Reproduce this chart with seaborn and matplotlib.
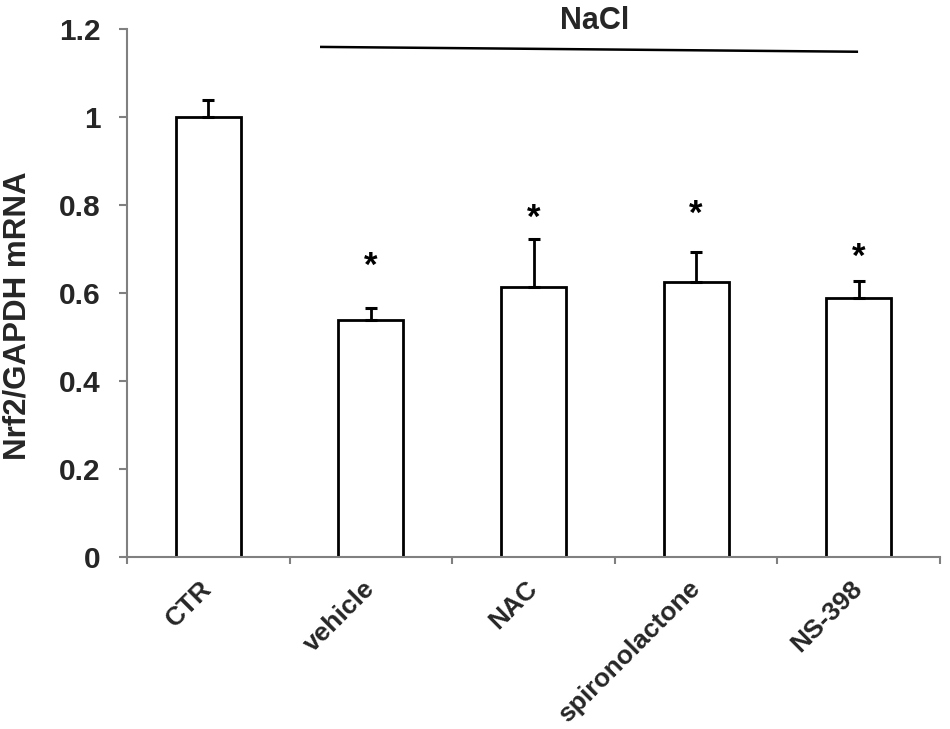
import matplotlib
matplotlib.use("Agg")

import matplotlib.pyplot as plt
import pandas as pd
import seaborn as sns


# ==========================================================
# Data
# ==========================================================

groups = ["CTR", "vehicle", "NAC", "spironolactone", "NS-398"]
means = [1.001, 0.539, 0.615, 0.626, 0.590]
errors = [0.038, 0.027, 0.108, 0.069, 0.039]
significant = [False, True, True, True, True]
star_y = [None, 0.661, 0.771, 0.779, 0.681]

y_ticks = [0, 0.2, 0.4, 0.6, 0.8, 1.0, 1.2]
y_tick_labels = ["0", "0.2", "0.4", "0.6", "0.8", "1", "1.2"]

bracket_label = "NaCl"
y_label = "Nrf2/GAPDH mRNA"


# ==========================================================
# Style
# ==========================================================

sns.set_style("white")
plt.rcParams["font.family"] = ["Liberation Sans", "DejaVu Sans"]
plt.rcParams["font.weight"] = "bold"

AXIS_GREY = "#808080"

dataframe = pd.DataFrame({"group": groups, "mean": means, "err": errors})

fig = plt.figure(figsize=(9.5, 7.29), dpi=100)
ax = fig.add_axes([0.1337, 0.2355, 0.8558, 0.7243])

sns.barplot(
    data=dataframe,
    x="group",
    y="mean",
    color="white",
    saturation=1,
    edgecolor="black",
    linewidth=2,
    width=0.4,
    errorbar=None,
    ax=ax,
)

# upper-only error bars
positions = list(range(len(groups)))
ax.errorbar(
    positions,
    dataframe["mean"],
    yerr=[[0] * len(groups), dataframe["err"]],
    fmt="none",
    ecolor="black",
    elinewidth=2,
    capsize=4.5,
    capthick=2.2,
    zorder=1,
)

# significance stars
for pos, flag, sy in zip(positions, significant, star_y):
    if flag:
        ax.text(pos, sy, "*", ha="center", va="center",
                fontsize=25, fontweight="bold", color="black")

# NaCl bracket line
ax.plot([0.687, 3.996], [1.160, 1.149], color="black", lw=1.8,
        solid_capstyle="butt", clip_on=False)
ax.text(2.378, 1.218, bracket_label, ha="center", va="center",
        fontsize=22, fontweight="bold", clip_on=False)

# ----------------------------------------------------------
# Axes
# ----------------------------------------------------------

ax.set_xlim(-0.5, len(groups) - 0.5)
ax.set_ylim(0, 1.2)

ax.set_yticks(y_ticks)
ax.set_yticklabels(y_tick_labels, fontsize=21.5, fontweight="bold")
ax.tick_params(axis="y", direction="out", length=6, width=1.5,
               color=AXIS_GREY, pad=13, left=True)

ax.set_xticks(positions)
ax.set_xticklabels(groups, fontsize=19, fontweight="bold",
                   rotation=45, ha="right", va="center",
                   rotation_mode="anchor")
ax.tick_params(axis="x", which="major", length=0, pad=20, bottom=True)
ax.set_xticks([p - 0.5 for p in positions] + [len(groups) - 0.5], minor=True)
ax.tick_params(axis="x", which="minor", direction="out", length=5,
               width=1.5, color=AXIS_GREY, bottom=True)

ax.set_xlabel("")
ax.set_ylabel(y_label, fontsize=22.5, fontweight="bold")
ax.yaxis.set_label_coords(-0.116, 0.457)

sns.despine(ax=ax, top=True, right=True)
for side in ["left", "bottom"]:
    ax.spines[side].set_color(AXIS_GREY)
    ax.spines[side].set_linewidth(1.5)

fig.savefig("out.png", dpi=100)
